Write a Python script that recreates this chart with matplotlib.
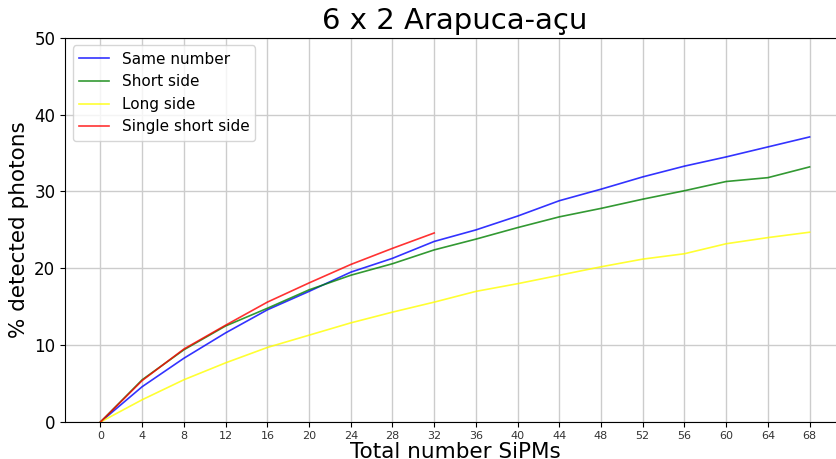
import numpy as np
import matplotlib
matplotlib.use("Agg")
import matplotlib.pyplot as plt

# number of SiPMs on the module
sipms = [0, 4, 8, 12, 16, 20, 24, 28, 32, 36, 40, 44, 48, 52, 56, 60, 64, 68]
sipms_single = [0, 4, 8, 12, 16, 20, 24, 28, 32]

# % of detected photons per configuration
same_number = [0, 4.6, 8.3, 11.6, 14.6, 17.0, 19.5, 21.3, 23.5, 25.0, 26.8, 28.8,
               30.3, 31.9, 33.3, 34.5, 35.8, 37.1]
short_side = [0, 5.5, 9.4, 12.5, 14.8, 17.2, 19.1, 20.6, 22.4, 23.8, 25.3, 26.7,
              27.8, 29.0, 30.1, 31.3, 31.8, 33.2]
long_side = [0, 2.9, 5.5, 7.7, 9.7, 11.3, 12.9, 14.3, 15.6, 17.0, 18.0, 19.1,
             20.2, 21.2, 21.9, 23.2, 24.0, 24.7]
single_short = [0, 5.4, 9.5, 12.6, 15.6, 18.1, 20.5, 22.6, 24.6]

fig = plt.figure(figsize=(8.36, 4.59), dpi=100)
ax = fig.add_axes([0.0778, 0.0806, 0.933, 0.837])

ax.plot(sipms, same_number, color="blue", lw=1.2, alpha=0.8, label="Same number")
ax.plot(sipms, short_side, color="green", lw=1.2, alpha=0.8, label="Short side")
ax.plot(sipms, long_side, color="yellow", lw=1.2, alpha=0.8, label="Long side")
ax.plot(sipms_single, single_short, color="red", lw=1.2, alpha=0.8, label="Single short side")

ax.set_xlim(-3.4, 71.4)
ax.set_ylim(0, 50)
ax.set_xticks(sipms)
ax.tick_params(axis="x", labelsize=8, labelcolor="#333333", pad=3)
ax.tick_params(axis="y", labelsize=12)
ax.grid(True, color="#cccccc", lw=1)
ax.set_axisbelow(True)

ax.set_title("6 x 2 Arapuca-açu", fontsize=21)
ax.set_xlabel("Total number SiPMs", fontsize=15.5, labelpad=0.5)
ax.set_ylabel("% detected photons", fontsize=15.5)
ax.legend(loc="upper left", fontsize=11)

fig.savefig("out.png", dpi=100)
